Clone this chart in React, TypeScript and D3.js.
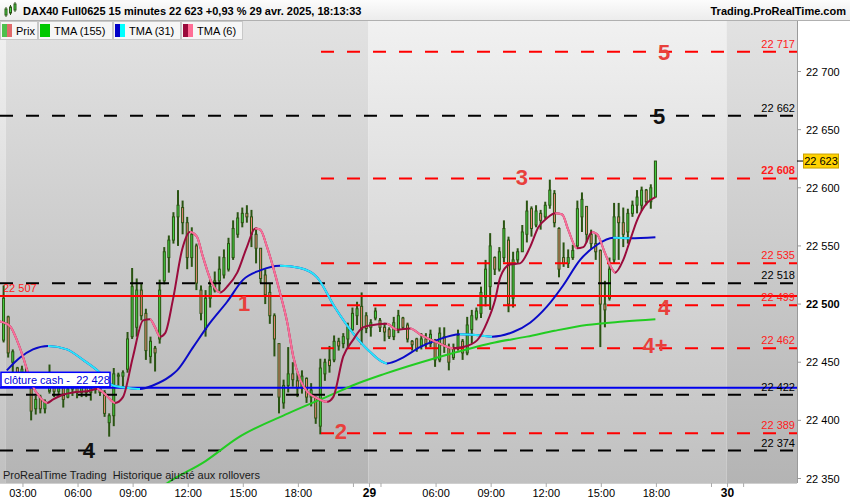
import React from "react"
import * as d3 from "d3"

const W = 850
const H = 500
const PLOT_R = 797
const PLOT_T = 21
const PLOT_B = 483
const FONT = "Liberation Sans, Arial, sans-serif"

// 15 minute bars, index 0 = last bar of 27/04, 1..79 = 28/04, 80..142 = 29/04
const opens = [
  22469, 22489, 22450, 22445, 22440, 22444, 22436, 22410, 22420, 22410,
  22425, 22438, 22425, 22432, 22420, 22427, 22430, 22424, 22429, 22424,
  22428, 22432, 22424, 22398, 22404, 22438, 22438, 22444, 22472, 22480,
  22512, 22492, 22455, 22462, 22470, 22520, 22540, 22555, 22575, 22583,
  22570, 22540, 22550, 22512, 22478, 22505, 22512, 22520, 22525, 22530,
  22540, 22560, 22570, 22578, 22575, 22560, 22548, 22525, 22510, 22490,
  22466, 22415, 22430, 22440, 22434, 22428, 22436, 22420, 22420, 22395,
  22440, 22452, 22452, 22468, 22466, 22470, 22478, 22490, 22498, 22490,
  22480, 22488, 22486, 22480, 22478, 22472, 22478, 22488, 22482, 22468,
  22470, 22464, 22470, 22466, 22468, 22452, 22472, 22462, 22454, 22462,
  22468, 22458, 22478, 22488, 22492, 22506, 22515, 22540, 22530, 22540,
  22555, 22505, 22538, 22545, 22560, 22582, 22568, 22578, 22575, 22585,
  22595, 22565, 22540, 22535, 22540, 22550, 22575, 22584, 22560, 22552,
  22546, 22500, 22505, 22538, 22575, 22570, 22562, 22578, 22585, 22585,
  22598, 22588, 22592,
]
const highs = [
  22516, 22490, 22461, 22446, 22447, 22445, 22439, 22421, 22422, 22418,
  22448, 22441, 22435, 22434, 22429, 22435, 22431, 22432, 22430, 22432,
  22437, 22434, 22426, 22406, 22445, 22441, 22443, 22476, 22531, 22522,
  22518, 22496, 22472, 22464, 22521, 22549, 22559, 22579, 22598, 22589,
  22575, 22566, 22552, 22516, 22512, 22521, 22528, 22541, 22547, 22557,
  22572, 22579, 22583, 22585, 22581, 22566, 22548, 22530, 22518, 22492,
  22466, 22435, 22463, 22450, 22441, 22443, 22437, 22432, 22420, 22453,
  22453, 22464, 22473, 22471, 22475, 22484, 22497, 22502, 22510, 22493,
  22487, 22497, 22488, 22484, 22480, 22489, 22495, 22489, 22484, 22469,
  22471, 22475, 22475, 22478, 22470, 22480, 22480, 22466, 22466, 22478,
  22470, 22489, 22495, 22497, 22515, 22538, 22561, 22541, 22549, 22572,
  22558, 22545, 22548, 22568, 22589, 22584, 22585, 22581, 22588, 22607,
  22598, 22566, 22553, 22547, 22551, 22589, 22596, 22584, 22564, 22561,
  22547, 22520, 22540, 22587, 22587, 22583, 22582, 22589, 22598, 22601,
  22599, 22603, 22623,
]
const lows = [
  22467, 22454, 22441, 22434, 22429, 22434, 22400, 22405, 22406, 22406,
  22423, 22420, 22420, 22411, 22419, 22421, 22419, 22420, 22420, 22417,
  22423, 22421, 22403, 22386, 22395, 22430, 22429, 22441, 22470, 22472,
  22486, 22452, 22449, 22442, 22466, 22517, 22527, 22552, 22550, 22560,
  22530, 22532, 22512, 22486, 22472, 22497, 22510, 22510, 22522, 22528,
  22538, 22557, 22566, 22570, 22549, 22535, 22518, 22500, 22483, 22455,
  22406, 22410, 22424, 22429, 22420, 22423, 22415, 22412, 22397, 22388,
  22434, 22441, 22450, 22460, 22462, 22462, 22477, 22482, 22465, 22475,
  22472, 22486, 22476, 22468, 22470, 22469, 22475, 22478, 22467, 22460,
  22459, 22461, 22462, 22463, 22446, 22450, 22458, 22443, 22452, 22460,
  22452, 22456, 22466, 22486, 22488, 22498, 22495, 22525, 22528, 22536,
  22493, 22497, 22535, 22545, 22553, 22558, 22566, 22564, 22573, 22582,
  22566, 22523, 22532, 22531, 22538, 22548, 22562, 22553, 22547, 22538,
  22463, 22480, 22503, 22535, 22538, 22549, 22552, 22575, 22578, 22580,
  22585, 22582, 22592,
]
const closes = [
  22505, 22458, 22459, 22440, 22444, 22437, 22408, 22418, 22410, 22416,
  22440, 22425, 22432, 22418, 22427, 22431, 22424, 22430, 22424, 22428,
  22434, 22424, 22406, 22404, 22440, 22439, 22441, 22470, 22515, 22512,
  22490, 22460, 22468, 22458, 22512, 22545, 22555, 22575, 22585, 22570,
  22540, 22560, 22518, 22492, 22505, 22515, 22520, 22530, 22540, 22552,
  22565, 22574, 22578, 22575, 22560, 22548, 22522, 22508, 22490, 22470,
  22420, 22430, 22440, 22435, 22428, 22438, 22420, 22426, 22402, 22445,
  22450, 22447, 22468, 22464, 22472, 22480, 22492, 22496, 22478, 22479,
  22484, 22494, 22480, 22476, 22472, 22484, 22490, 22480, 22470, 22465,
  22462, 22470, 22466, 22474, 22452, 22475, 22465, 22450, 22462, 22473,
  22458, 22482, 22490, 22494, 22510, 22530, 22550, 22530, 22545, 22565,
  22500, 22538, 22545, 22562, 22580, 22565, 22580, 22572, 22585, 22598,
  22570, 22530, 22535, 22540, 22546, 22582, 22590, 22560, 22552, 22545,
  22500, 22495, 22530, 22575, 22570, 22560, 22578, 22585, 22592, 22598,
  22588, 22600, 22623,
]
const lastPrice = 22623

// moving averages: [bar index, price]
const tma155: [number, number][] = [
  [31, 22333], [36, 22347], [44, 22365], [51, 22385], [62, 22406], [72, 22423],
  [76, 22430], [83, 22440], [91, 22450], [98, 22458], [107, 22467], [114, 22472],
  [120, 22477], [127, 22482], [135, 22485], [142, 22487],
]
const tma31: [number, number][] = [
  [0.7, 22443], [3.6, 22454], [6.4, 22461], [9.7, 22464], [13.8, 22461], [17.3, 22452],
  [21, 22441], [23.8, 22430], [26.9, 22428], [29.7, 22427], [32.5, 22430], [36.3, 22438],
  [37.8, 22443], [41.3, 22463], [45, 22484], [48.7, 22502], [52.2, 22521], [55.9, 22529],
  [60.2, 22533], [64.6, 22531], [68.3, 22523], [72.2, 22497], [76.1, 22475], [79.8, 22459],
  [83.5, 22449], [87, 22454], [90.7, 22463], [94.4, 22469], [99.4, 22474], [103.8, 22473],
  [106.4, 22472], [111, 22476], [114.7, 22484], [118.4, 22498], [121.9, 22516], [125.6, 22538],
  [129.3, 22551], [132.8, 22557], [136.5, 22556.5], [142, 22557.5],
]
const tma6: [number, number][] = [
  [-0.8, 22485], [1.4, 22481], [2.9, 22469], [4.2, 22455], [5.3, 22441], [6.4, 22429],
  [7.9, 22420], [9.5, 22415], [10.8, 22418], [12.9, 22422], [15.1, 22424], [18.2, 22425],
  [20.4, 22427], [22.5, 22421], [24.3, 22415], [26, 22420], [28.2, 22455], [30.4, 22486],
  [31.9, 22487], [33, 22480], [34.1, 22472], [35.2, 22475], [36.9, 22504], [38.9, 22547],
  [40.6, 22562], [42.1, 22558], [43.4, 22541], [45.4, 22518], [47.2, 22510], [48.7, 22515],
  [50.9, 22527], [53, 22549], [54.8, 22565], [55.9, 22564], [57.4, 22549], [58.7, 22532],
  [60.2, 22510], [61.8, 22484], [63.1, 22455], [64.6, 22435], [66.1, 22425], [68.3, 22419],
  [70.5, 22416], [71.8, 22420], [74, 22455], [76.1, 22469], [78.3, 22480], [80.5, 22482],
  [83.5, 22483], [85.7, 22478], [88.6, 22479], [90.7, 22474], [94.4, 22467], [97.9, 22462],
  [100.1, 22463], [103.2, 22469], [105.3, 22484], [107.1, 22504], [108.2, 22523], [110.3, 22534],
  [112.5, 22535], [114.7, 22549], [116.5, 22566], [118.4, 22574], [120.2, 22578], [121.7, 22577],
  [123, 22564], [124.9, 22548], [126.3, 22549], [128.2, 22562], [129.3, 22560], [131, 22544],
  [132.6, 22530], [133.2, 22527], [135, 22538], [136.5, 22555], [138, 22572], [140.2, 22587],
  [142, 22592],
]

// horizontal levels
const redDashLevels = [22717, 22608, 22535, 22499, 22462, 22389]
const blackDashLevels = [22662, 22518, 22422, 22374]
const redSolidLevel = 22507
const cashClose = 22428

const priceTicks = [22350, 22400, 22450, 22500, 22550, 22600, 22650, 22700]
const timeLabels = [
  { i: 4, t: "03:00" }, { i: 16, t: "06:00" }, { i: 28, t: "09:00" }, { i: 40, t: "12:00" },
  { i: 52, t: "15:00" }, { i: 64, t: "18:00" }, { i: 79.5, t: "29", day: true },
  { i: 94, t: "06:00" }, { i: 106, t: "09:00" }, { i: 118, t: "12:00" }, { i: 130, t: "15:00" },
  { i: 142, t: "18:00" }, { i: 157.5, t: "30", day: true },
]
const minorTicks = [76, 82, 154, 161]
const dayBreaks = [-3, 0.5, 79.5, 157.5, 176]

const waveLabels = [
  { t: "5", i: 143.9, p: 22710, red: true },
  { t: "5", i: 142.8, p: 22655, red: false },
  { t: "3", i: 112.9, p: 22602, red: true },
  { t: "1", i: 52.4, p: 22494, red: true },
  { t: "2", i: 73.5, p: 22384, red: true },
  { t: "4", i: 143.9, p: 22491, red: true },
  { t: "4+", i: 141.9, p: 22458, red: true },
  { t: "4", i: 18.6, p: 22368, red: false },
]

const title = "DAX40 Full0625 15 minutes 22 623 +0,93 % 29 avr. 2025, 18:13:33"
const site = "Trading.ProRealTime.com"
const footer = "ProRealTime Trading  Historique ajusté aux rollovers"
const legend = [
  { label: "Prix", c: ["#4cc04c", "#e06a6a"], x: 0, w: 37 },
  { label: "TMA (155)", c: ["#00c800", "#00c800"], x: 38, w: 74 },
  { label: "TMA (31)", c: ["#0000c8", "#00ffff"], x: 113, w: 67 },
  { label: "TMA (6)", c: ["#9a0b3c", "#ff6e96"], x: 181, w: 61 },
]

const x = d3.scaleLinear().domain([0, 142]).range([3.6, 655.4])
const y = d3.scaleLinear().domain([22350, 22700]).range([478.5, 71.5])
const fmt = d3.formatLocale({ decimal: ",", thousands: " ", grouping: [3], currency: ["", ""] }).format(",")

const line = d3
  .line<[number, number]>()
  .x((d) => x(d[0]))
  .y((d) => y(d[1]))
  .curve(d3.curveMonotoneX)

// ranges of the line where it falls
function fallingRuns(pts: [number, number][]) {
  const runs: [number, number][] = []
  let start = -1
  for (let k = 1; k < pts.length; k++) {
    const falling = pts[k][1] < pts[k - 1][1]
    if (falling && start < 0) start = k - 1
    if (!falling && start >= 0) {
      runs.push([pts[start][0], pts[k - 1][0]])
      start = -1
    }
  }
  if (start >= 0) runs.push([pts[start][0], pts[pts.length - 1][0]])
  return runs
}

const TwoColorLine = ({ id, pts, up, down }: { id: string; pts: [number, number][]; up: string; down: string }) => {
  const d = line(pts) || ""
  const runs = fallingRuns(pts)
  return (
    <g>
      <defs>
        {runs.map((r, k) => (
          <clipPath id={`${id}-${k}`} key={k}>
            <rect x={x(r[0])} y={0} width={x(r[1]) - x(r[0])} height={H} />
          </clipPath>
        ))}
      </defs>
      <path d={d} fill="none" stroke={up} strokeWidth={2} />
      {runs.map((r, k) => (
        <path key={k} d={d} fill="none" stroke={down} strokeWidth={2} clipPath={`url(#${id}-${k})`} />
      ))}
    </g>
  )
}

export default function App() {
  const bands = dayBreaks.slice(0, -1).map((b, k) => ({ x0: x(b), x1: x(dayBreaks[k + 1]), light: k % 2 === 0 }))
  return (
    <svg width={W} height={H} style={{ position: "absolute", left: 0, top: 0 }} fontFamily={FONT}>
      <defs>
        <linearGradient id="bgLight" gradientUnits="userSpaceOnUse" x1={0} y1={PLOT_T} x2={0} y2={PLOT_B}>
          <stop offset="0" stopColor="#f1f1f1" />
          <stop offset="1" stopColor="#c0c0c0" />
        </linearGradient>
        <linearGradient id="bgDark" gradientUnits="userSpaceOnUse" x1={0} y1={PLOT_T} x2={0} y2={PLOT_B}>
          <stop offset="0" stopColor="#e2e2e2" />
          <stop offset="1" stopColor="#b4b4b4" />
        </linearGradient>
        <linearGradient id="head" x1={0} y1={0} x2={0} y2={1}>
          <stop offset="0" stopColor="#fcfcfc" />
          <stop offset="1" stopColor="#ececec" />
        </linearGradient>
        <clipPath id="plot">
          <rect x={0} y={PLOT_T} width={PLOT_R} height={PLOT_B - PLOT_T} />
        </clipPath>
      </defs>

      <rect width={W} height={H} fill="#ffffff" />

      <g clipPath="url(#plot)">
        {bands.map((b, k) => (
          <rect key={k} x={b.x0} y={PLOT_T} width={b.x1 - b.x0} height={PLOT_B - PLOT_T} fill={b.light ? "url(#bgLight)" : "url(#bgDark)"} />
        ))}

        {/* candles */}
        {closes.map((c, i) => {
          const o = opens[i]
          const up = c >= o
          const top = y(Math.max(o, c))
          const bot = y(Math.min(o, c))
          return (
            <g key={i}>
              <line x1={x(i)} x2={x(i)} y1={y(highs[i])} y2={y(lows[i])} stroke="#2a5412" strokeWidth={2} />
              <rect x={x(i) - 1} y={top} width={2} height={Math.max(1, bot - top)} fill={up ? "#45d545" : "#f08878"} stroke="#2a5412" strokeWidth={1} />
            </g>
          )
        })}

        {/* levels */}
        {blackDashLevels.map((v) => (
          <line key={v} x1={0} x2={PLOT_R} y1={y(v)} y2={y(v)} stroke="#000" strokeWidth={2} strokeDasharray="13 13" />
        ))}
        {redDashLevels.map((v) => (
          <line key={v} x1={321} x2={PLOT_R} y1={y(v)} y2={y(v)} stroke="#ff0000" strokeWidth={2} strokeDasharray="13 13" />
        ))}
        <line x1={0} x2={PLOT_R} y1={y(redSolidLevel)} y2={y(redSolidLevel)} stroke="#ff0000" strokeWidth={2} />
        <line x1={0} x2={PLOT_R} y1={y(cashClose)} y2={y(cashClose)} stroke="#0000ee" strokeWidth={2} />

        {/* moving averages */}
        <path d={line(tma155) || ""} fill="none" stroke="#22cc22" strokeWidth={2} />
        <TwoColorLine id="t31" pts={tma31} up="#0a0ac8" down="#2ae8f8" />
        <TwoColorLine id="t6" pts={tma6} up="#9a0b3c" down="#f7709a" />

        {/* level labels */}
        {redDashLevels.map((v) => (
          <text key={v} x={795} y={y(v) - 4} textAnchor="end" fontSize={11} fill="#ff1a1a" fontWeight={v === 22608 ? "bold" : "normal"}>
            {fmt(v)}
          </text>
        ))}
        {blackDashLevels.map((v) => (
          <text key={v} x={795} y={y(v) - 4} textAnchor="end" fontSize={11} fill="#000">
            {fmt(v)}
          </text>
        ))}
        <text x={3} y={y(redSolidLevel) - 4} fontSize={11} fill="#ff1a1a">
          {fmt(redSolidLevel)}
        </text>
        <rect x={1} y={y(cashClose) - 15.5} width={109} height={14.5} fill="#fff" stroke="#0000ff" strokeWidth={1.5} />
        <text x={4} y={y(cashClose) - 4} fontSize={11} fill="#0000dd" style={{ whiteSpace: "pre" }}>
          {`clôture cash -  ${fmt(cashClose)}`}
        </text>

        {waveLabels.map((w, k) => (
          <text key={k} x={x(w.i)} y={y(w.p)} textAnchor="middle" fontSize={22} fontWeight="bold" fill={w.red ? "#e8403c" : "#111"}>
            {w.t}
          </text>
        ))}

        <text x={3} y={479} fontSize={11} fill="#1a1a1a" style={{ whiteSpace: "pre" }}>
          {footer}
        </text>
      </g>

      {/* right axis */}
      <line x1={PLOT_R + 0.5} x2={PLOT_R + 0.5} y1={PLOT_T} y2={PLOT_B} stroke="#9a9a9a" />
      {priceTicks.map((t) => (
        <g key={t}>
          <line x1={PLOT_R} x2={PLOT_R + 4} y1={y(t)} y2={y(t)} stroke="#999" />
          <text x={806} y={y(t) + 4} fontSize={11} fontWeight={t === 22500 ? "bold" : "normal"} fill="#000">
            {fmt(t)}
          </text>
        </g>
      ))}
      <line x1={PLOT_R} x2={PLOT_R + 6} y1={y(lastPrice)} y2={y(lastPrice)} stroke="#000" />
      <rect x={803.5} y={y(lastPrice) - 7} width={35} height={14} fill="#ffd200" stroke="#c9a100" />
      <text x={821} y={y(lastPrice) + 4} textAnchor="middle" fontSize={11} fill="#000">
        {fmt(lastPrice)}
      </text>

      {/* bottom axis */}
      <line x1={0} x2={PLOT_R} y1={PLOT_B + 0.5} y2={PLOT_B + 0.5} stroke="#cfcfcf" />
      {timeLabels.map((l) => (
        <g key={l.i}>
          <line x1={x(l.i) + 1} x2={x(l.i) + 1} y1={PLOT_B} y2={PLOT_B + 4} stroke="#aaa" />
          <text x={x(l.i) + 1} y={497} textAnchor="middle" fontSize={l.day ? 12 : 11} fontWeight={l.day ? "bold" : "normal"} fill="#000">
            {l.t}
          </text>
        </g>
      ))}
      {minorTicks.map((i) => (
        <line key={i} x1={x(i) + 1} x2={x(i) + 1} y1={PLOT_B} y2={PLOT_B + 4} stroke="#aaa" />
      ))}

      {/* header */}
      <rect x={0} y={0} width={W} height={20} fill="url(#head)" />
      <line x1={0} x2={W} y1={20.5} y2={20.5} stroke="#b0b0b0" />
      <g stroke="#2c5618" strokeWidth={1}>
        <line x1={6} x2={6} y1={7} y2={17} />
        <rect x={5} y={9} width={2} height={6} fill="#45d545" />
        <line x1={10.5} x2={10.5} y1={5} y2={15} />
        <rect x={9.5} y={7} width={2} height={6} fill="#45d545" />
        <line x1={15} x2={15} y1={2} y2={12} />
        <rect x={14} y={4} width={2} height={6} fill="#45d545" />
      </g>
      <text x={23} y={15} fontSize={11} fontWeight="bold" fill="#000">
        {title}
      </text>
      <text x={846} y={15} textAnchor="end" fontSize={11} fontWeight="bold" fill="#000">
        {site}
      </text>

      {/* legend */}
      {legend.map((l) => (
        <g key={l.label}>
          <rect x={l.x + 0.5} y={21.5} width={l.w} height={18} fill="#f6f6f6" stroke="#c8c8c8" />
          <rect x={l.x + 2} y={24} width={5} height={13} fill={l.c[0]} />
          <rect x={l.x + 7} y={24} width={5} height={13} fill={l.c[1]} />
          <text x={l.x + 16} y={35} fontSize={11} fill="#000">
            {l.label}
          </text>
        </g>
      ))}
    </svg>
  )
}
